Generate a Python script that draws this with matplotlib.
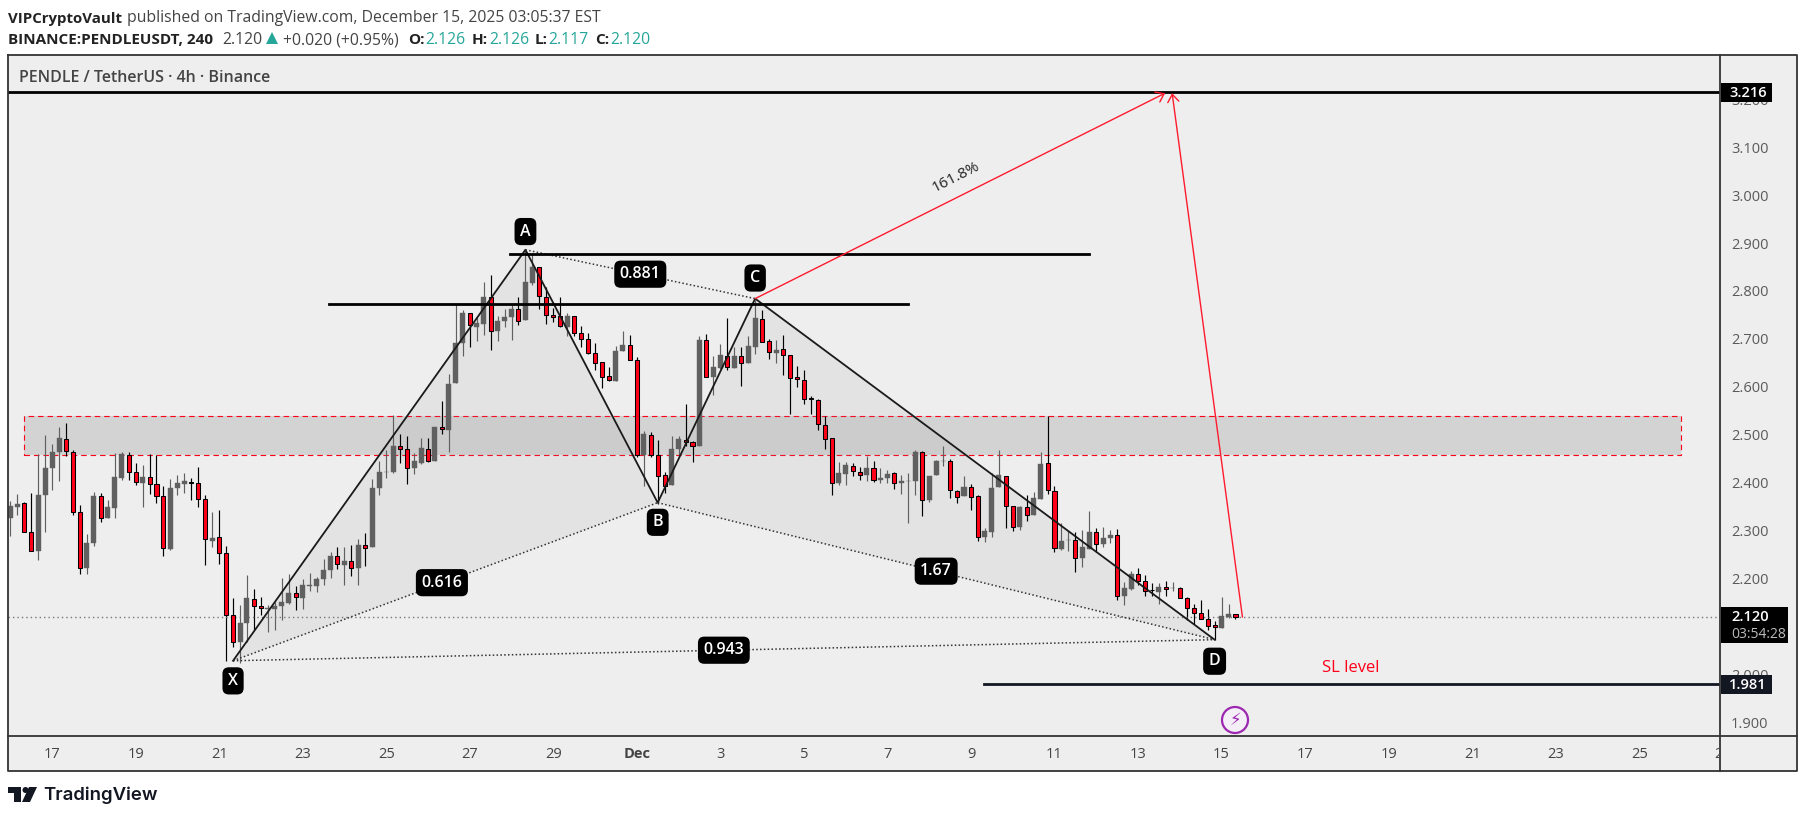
import matplotlib
matplotlib.use('Agg')
import matplotlib.pyplot as plt
from matplotlib.patches import Rectangle, Circle, Polygon
from matplotlib.transforms import Bbox

plt.rcParams['font.family'] = ['Open Sans', 'DejaVu Sans']

# candle data (4h bars)
opens = [2.328,2.351,2.358,2.298,2.259,2.374,2.431,2.464,2.492,2.465,2.339,2.222,2.274,2.373,2.328,2.347,2.411,2.459,2.423,2.401,
         2.413,2.398,2.373,2.263,2.389,2.399,2.402,2.400,2.367,2.280,2.287,2.254,2.124,2.069,2.107,2.158,2.143,2.138,2.138,2.143,
         2.150,2.170,2.161,2.186,2.186,2.199,2.218,2.248,2.228,2.237,2.222,2.271,2.266,2.389,2.422,2.422,2.477,2.471,2.431,2.442,
         2.471,2.445,2.517,2.511,2.608,2.692,2.755,2.726,2.731,2.788,2.717,2.738,2.747,2.763,2.740,2.818,2.851,2.788,2.751,2.749,
         2.726,2.749,2.713,2.701,2.671,2.653,2.623,2.614,2.675,2.688,2.657,2.458,2.500,2.459,2.417,2.395,2.472,2.490,2.486,2.477,
         2.699,2.622,2.641,2.665,2.641,2.665,2.651,2.683,2.742,2.697,2.672,2.680,2.667,2.621,2.616,2.577,2.574,2.522,2.494,2.400,
         2.419,2.436,2.423,2.416,2.432,2.406,2.410,2.421,2.400,2.404,2.404,2.465,2.364,2.416,2.446,2.446,2.384,2.372,2.392,2.373,
         2.287,2.298,2.391,2.415,2.352,2.308,2.350,2.334,2.366,2.442,2.384,2.263,2.281,2.281,2.243,2.263,2.298,2.272,2.285,2.292,
         2.164,2.178,2.210,2.196,2.177,2.172,2.183,2.180,2.180,2.160,2.139,2.129,2.116,2.104,2.098,2.121,2.127]
closes = [2.353,2.357,2.298,2.258,2.376,2.432,2.465,2.493,2.466,2.339,2.223,2.275,2.372,2.328,2.349,2.413,2.461,2.423,2.402,2.413,
          2.398,2.373,2.264,2.390,2.401,2.405,2.401,2.367,2.283,2.286,2.254,2.124,2.068,2.108,2.159,2.143,2.139,2.139,2.143,2.152,
          2.171,2.162,2.188,2.188,2.200,2.219,2.248,2.231,2.238,2.223,2.271,2.264,2.390,2.424,2.424,2.478,2.471,2.432,2.445,2.474,
          2.445,2.518,2.513,2.607,2.693,2.754,2.730,2.735,2.789,2.717,2.738,2.747,2.764,2.738,2.820,2.852,2.790,2.751,2.747,2.728,
          2.749,2.713,2.701,2.671,2.651,2.621,2.615,2.676,2.689,2.657,2.458,2.503,2.458,2.415,2.394,2.472,2.491,2.485,2.477,2.699,
          2.621,2.643,2.668,2.642,2.666,2.650,2.687,2.745,2.694,2.674,2.678,2.667,2.619,2.617,2.576,2.576,2.524,2.492,2.400,2.421,
          2.438,2.425,2.417,2.432,2.407,2.411,2.419,2.400,2.405,2.405,2.464,2.365,2.415,2.447,2.447,2.386,2.371,2.392,2.371,2.287,
          2.300,2.390,2.417,2.352,2.309,2.351,2.334,2.369,2.440,2.386,2.265,2.280,2.282,2.244,2.267,2.297,2.273,2.286,2.292,2.164,
          2.180,2.211,2.195,2.175,2.176,2.183,2.178,2.181,2.160,2.139,2.129,2.116,2.102,2.100,2.123,2.127,2.121]
highs = [2.363,2.377,2.360,2.379,2.461,2.501,2.482,2.518,2.526,2.470,2.354,2.294,2.382,2.379,2.365,2.463,2.465,2.465,2.442,2.438,
         2.461,2.459,2.394,2.409,2.417,2.420,2.411,2.434,2.375,2.340,2.344,2.269,2.159,2.146,2.207,2.179,2.163,2.146,2.151,2.202,
         2.211,2.186,2.200,2.213,2.203,2.242,2.257,2.267,2.267,2.271,2.284,2.296,2.409,2.447,2.470,2.543,2.503,2.499,2.463,2.493,
         2.493,2.518,2.572,2.628,2.774,2.762,2.755,2.746,2.820,2.834,2.749,2.764,2.772,2.789,2.887,2.880,2.851,2.809,2.766,2.789,
         2.754,2.749,2.728,2.713,2.692,2.653,2.643,2.687,2.718,2.710,2.664,2.508,2.507,2.489,2.423,2.499,2.499,2.564,2.488,2.708,
         2.712,2.666,2.691,2.745,2.683,2.683,2.706,2.783,2.762,2.701,2.699,2.710,2.667,2.645,2.635,2.582,2.576,2.539,2.494,2.443,
         2.443,2.441,2.434,2.457,2.447,2.432,2.427,2.423,2.417,2.420,2.470,2.467,2.415,2.449,2.478,2.451,2.386,2.414,2.398,2.376,
         2.306,2.421,2.470,2.415,2.352,2.352,2.376,2.382,2.465,2.540,2.394,2.316,2.300,2.298,2.301,2.341,2.307,2.309,2.303,2.305,
         2.194,2.217,2.222,2.207,2.192,2.192,2.196,2.194,2.183,2.162,2.148,2.155,2.136,2.113,2.163,2.148,2.127]
lows = [2.289,2.334,2.298,2.258,2.240,2.297,2.386,2.404,2.456,2.333,2.211,2.211,2.268,2.318,2.326,2.326,2.406,2.407,2.395,2.351,
        2.378,2.358,2.247,2.261,2.376,2.380,2.364,2.351,2.228,2.266,2.230,2.028,2.057,2.024,2.069,2.094,2.125,2.088,2.094,2.115,
        2.147,2.134,2.138,2.175,2.172,2.188,2.201,2.220,2.188,2.205,2.188,2.226,2.266,2.376,2.410,2.420,2.442,2.399,2.418,2.440,
        2.443,2.445,2.502,2.464,2.608,2.665,2.685,2.697,2.710,2.678,2.696,2.726,2.699,2.729,2.740,2.813,2.763,2.733,2.737,2.725,
        2.706,2.706,2.685,2.669,2.637,2.598,2.613,2.612,2.675,2.657,2.454,2.394,2.454,2.357,2.379,2.395,2.456,2.477,2.443,2.477,
        2.621,2.584,2.639,2.635,2.641,2.602,2.651,2.670,2.694,2.658,2.651,2.625,2.545,2.600,2.566,2.545,2.510,2.471,2.375,2.396,
        2.396,2.414,2.406,2.404,2.402,2.400,2.400,2.387,2.377,2.316,2.375,2.331,2.360,2.416,2.435,2.368,2.358,2.372,2.343,2.279,
        2.277,2.287,2.391,2.306,2.300,2.302,2.320,2.334,2.366,2.377,2.256,2.260,2.258,2.214,2.224,2.263,2.257,2.267,2.274,2.155,
        2.145,2.177,2.188,2.165,2.164,2.148,2.164,2.174,2.160,2.115,2.105,2.116,2.094,2.073,2.097,2.118,2.117]

# harmonic pattern points (bar index, price)
pt_x = (32, 2.029)
pt_a = (74, 2.887)
pt_b = (93, 2.359)
pt_c = (107, 2.785)
pt_d = (173, 2.073)
ratio_labels = ['0.616', '0.881', '1.67', '0.943']

last_price = 2.120
target_price = 3.216
sl_price = 1.981
zone_top = 2.539
zone_bottom = 2.4595

# 2.100 sits fully behind the last price box in the original
ytick_vals = [1.9, 2.0, 2.2, 2.3, 2.4, 2.5, 2.6, 2.7, 2.8, 2.9, 3.0, 3.1, 3.2]
xtick_labels = ['17','19','21','23','25','27','29','Dec','3','5','7','9','11','13','15','17','19','21','23','25']
xtick_pos = [6 + 12 * k for k in range(len(xtick_labels))]

UP = '#606060'
DOWN = '#ff0019'
FRAME = '#333333'
BG = '#eeeeee'
W, H = 1806, 818

fig = plt.figure(figsize=(W / 100, H / 100), dpi=100, facecolor='white')

# whole page in pixels, for header, footer and boxes
page = fig.add_axes([0, 0, 1, 1], zorder=5)
page.set_xlim(0, W)
page.set_ylim(H, 0)
page.axis('off')
page.patch.set_alpha(0)

ax = fig.add_axes([8 / W, (H - 736) / H, (1720 - 8) / W, (736 - 55) / H], zorder=1)
ax.set_facecolor(BG)
ax.set_xlim(-0.33, 245.6)
ax.set_ylim(1.8719, 3.2936)

# right strip and bottom strip share the panel colour
page.add_patch(Rectangle((1720, 55), 77, 716, fc=BG, ec='none', zorder=0))
page.add_patch(Rectangle((8, 736), 1712, 35, fc=BG, ec='none', zorder=0))
page.plot([8, 1797, 1797, 8, 8], [55, 55, 771, 771, 55], color=FRAME, lw=1.3, zorder=1)
page.plot([1720, 1720], [55, 771], color=FRAME, lw=1.3, zorder=1)
page.plot([8, 1797], [736, 736], color=FRAME, lw=1.3, zorder=1)

for sp in ax.spines.values():
    sp.set_visible(False)
ax.tick_params(left=False, right=False, top=False, bottom=False, labelleft=False, labelbottom=False)

# support zone
ax.add_patch(Rectangle((2, zone_bottom), 238, zone_top - zone_bottom, fc='#bdbdbd', alpha=0.55, ec='none', zorder=1))
ax.add_patch(Rectangle((2, zone_bottom), 238, zone_top - zone_bottom, fc='none', ec='#ff0019', lw=0.8, ls=(0, (5, 3.5)), zorder=1))

# pattern fill
ax.add_patch(Polygon([pt_x, pt_a, pt_b], fc='#9a9a9a', alpha=0.12, ec='none', zorder=1))
ax.add_patch(Polygon([pt_b, pt_c, pt_d], fc='#9a9a9a', alpha=0.12, ec='none', zorder=1))

# candles
for i, (o, h, l, c) in enumerate(zip(opens, highs, lows, closes)):
    up = c >= o
    wick = UP if up else 'black'
    ax.plot([i, i], [l, h], color=wick, lw=0.85, zorder=2, solid_capstyle='butt')
    top, bot = max(o, c), min(o, c)
    if up:
        ax.bar(i, max(top - bot, 0.001), bottom=bot, width=0.72, color=UP, edgecolor=UP, linewidth=0.3, zorder=3)
    else:
        ax.bar(i, max(top - bot, 0.001), bottom=bot, width=0.58, color=DOWN, edgecolor='black', linewidth=0.75, zorder=3)

# last price line
ax.axhline(last_price, color='#777777', lw=1, ls=(0, (1, 2.2)), zorder=2.5)

# pattern legs
legs = [pt_x, pt_a, pt_b, pt_c, pt_d]
ax.plot([p[0] for p in legs], [p[1] for p in legs], color='#1a1a1a', lw=1.3, zorder=5)
dotted = [(pt_x, pt_b), (pt_a, pt_c), (pt_b, pt_d), (pt_x, pt_d)]
for p, q in dotted:
    ax.plot([p[0], q[0]], [p[1], q[1]], color='#333333', lw=1.1, ls=(0, (1, 1.5)), zorder=5)

# horizontal levels
ax.plot([-0.33, 245.6], [target_price, target_price], color='black', lw=2, zorder=6)
ax.plot([71.8, 155], [2.878, 2.878], color='black', lw=2, zorder=6)
ax.plot([45.8, 129], [2.773, 2.773], color='black', lw=2, zorder=6)
ax.plot([139.9, 245.6], [sl_price, sl_price], color='#131722', lw=2, zorder=6)

# red projection arrows
ax.annotate('', xy=(165.9, target_price - 0.002), xytext=pt_c, zorder=6,
            arrowprops=dict(arrowstyle='->,head_length=0.55,head_width=0.4', color='#ff1a2e', lw=1.0, shrinkA=0, shrinkB=0))
ax.annotate('', xy=(166.9, target_price - 0.002), xytext=(177, last_price), zorder=6,
            arrowprops=dict(arrowstyle='->,head_length=0.55,head_width=0.4', color='#ff1a2e', lw=1.0, shrinkA=0, shrinkB=0))
ax.text(135.8, 3.038, '161.8%', rotation=27, ha='center', va='center', fontsize=11, color='#222222', zorder=6)
ax.text(192.5, 2.0135, 'SL level', ha='center', va='center', fontsize=12, color='#ff0019', zorder=6)


def tag(a, txt, x, y):
    # black rounded label centred on a data point
    a.text(x, y, txt, ha='center', va='center', color='white', fontsize=11.5, fontweight='semibold', zorder=9,
           bbox=dict(boxstyle='round,pad=0.35,rounding_size=0.4', fc='black', ec='none'))


tag(ax, 'A', 74, 2.925)
tag(ax, 'C', 107, 2.828)
tag(ax, 'B', 93, 2.318)
tag(ax, 'D', 173, 2.028)
tag(ax, 'X', 32, 1.987)
tag(ax, ratio_labels[0], (pt_x[0] + pt_b[0]) / 2 - 0.5, (pt_x[1] + pt_b[1]) / 2 - 0.002)
tag(ax, ratio_labels[1], (pt_a[0] + pt_c[0]) / 2, (pt_a[1] + pt_c[1]) / 2)
tag(ax, ratio_labels[2], (pt_b[0] + pt_d[0]) / 2, (pt_b[1] + pt_d[1]) / 2)
tag(ax, ratio_labels[3], (pt_x[0] + pt_d[0]) / 2, (pt_x[1] + pt_d[1]) / 2)

# axis labels, drawn through the data transforms
for v in ytick_vals:
    page_y = ax.transData.transform((0, v))[1]
    page.text(1731, H - page_y + 1.5, '%.3f' % v, ha='left', va='center', fontsize=10.5, color='#5a5a5a', zorder=2)
for pos, lab in zip(xtick_pos, xtick_labels):
    page_x = ax.transData.transform((pos, 0))[0]
    page.text(page_x, 754, lab, ha='center', va='center', fontsize=10.5, color='#444444',
              fontweight='bold' if lab == 'Dec' else 'normal', zorder=2)
clip_x = ax.transData.transform((246, 0))[0]
t = page.text(clip_x, 754, '27', ha='center', va='center', fontsize=10.5, color='#444444', zorder=2)
t.set_clip_on(True)
t.set_clip_box(Bbox([[0, 0], [1719, H]]))

# price boxes on the axis
page.add_patch(Rectangle((1721, 83), 51, 19, fc='black', ec='none', zorder=3))
page.text(1748, 93, '%.3f' % target_price, ha='center', va='center', color='white', fontsize=10.5, fontweight='semibold', zorder=4)
page.add_patch(Rectangle((1721, 607), 67, 36, fc='black', ec='none', zorder=3))
page.text(1731, 617, '%.3f' % last_price, ha='left', va='center', color='white', fontsize=10.5, fontweight='semibold', zorder=4)
page.text(1731, 634, '03:54:28', ha='left', va='center', color='#bbbbbb', fontsize=10, zorder=4)
page.add_patch(Rectangle((1721, 675), 51, 19, fc='#131722', ec='none', zorder=3))
page.text(1748, 685, '%.3f' % sl_price, ha='center', va='center', color='white', fontsize=10.5, fontweight='semibold', zorder=4)

# dividend style marker
page.add_patch(Circle((1235, 720), 13, fc='#f4eef6', ec='#9c27b0', lw=1.6, zorder=3))
page.text(1235, 720, '\u26a1', ha='center', va='center', color='#9c27b0', fontsize=12, family='DejaVu Sans', zorder=4)

# header
page.text(8, 18.5, 'VIPCryptoVault', fontsize=10.8, fontweight='bold', color='#222222', va='center')
page.text(127, 18.5, 'published on TradingView.com, December 15, 2025 03:05:37 EST', fontsize=11.3, color='#444444', va='center')
page.text(8, 40.5, 'BINANCE:PENDLEUSDT, 240', fontsize=11, fontweight='bold', color='#222222', va='center')
page.text(222, 40.5, '2.120', fontsize=11.3, color='#444444', va='center')
page.add_patch(Polygon([[266, 44], [278, 44], [272, 32]], fc='#26a69a', ec='none'))
page.text(283, 40.5, '+0.020 (+0.95%)', fontsize=11.3, color='#444444', va='center')
ohlc_x = [(408, 'O:', 425, '2.126'), (472, 'H:', 489, '2.126'), (535, 'L:', 548, '2.117'), (595, 'C:', 610, '2.120')]
for x1, lab, x2, val in ohlc_x:
    page.text(x1, 40.5, lab, fontsize=11, fontweight='bold', color='#222222', va='center')
    page.text(x2, 40.5, val, fontsize=11.3, color='#26a69a', va='center')
page.text(19, 78.5, 'PENDLE / TetherUS \u00b7 4h \u00b7 Binance', fontsize=11.5, fontweight='semibold', color='#444444', va='center')

# footer logo
LOGO = '#131722'
page.add_patch(Polygon([[8, 787], [21, 787], [21, 802], [14, 802], [14, 793], [8, 793]], fc=LOGO, ec='none'))
page.add_patch(Circle((25.5, 790), 3, fc=LOGO, ec='none'))
page.add_patch(Polygon([[29, 787], [37, 787], [30, 802], [22, 802]], fc=LOGO, ec='none'))
page.text(43, 795, 'TradingView', family='Inter', fontsize=13.4, fontweight='semibold', color=LOGO, va='center')

fig.savefig('out.png', dpi=100)
